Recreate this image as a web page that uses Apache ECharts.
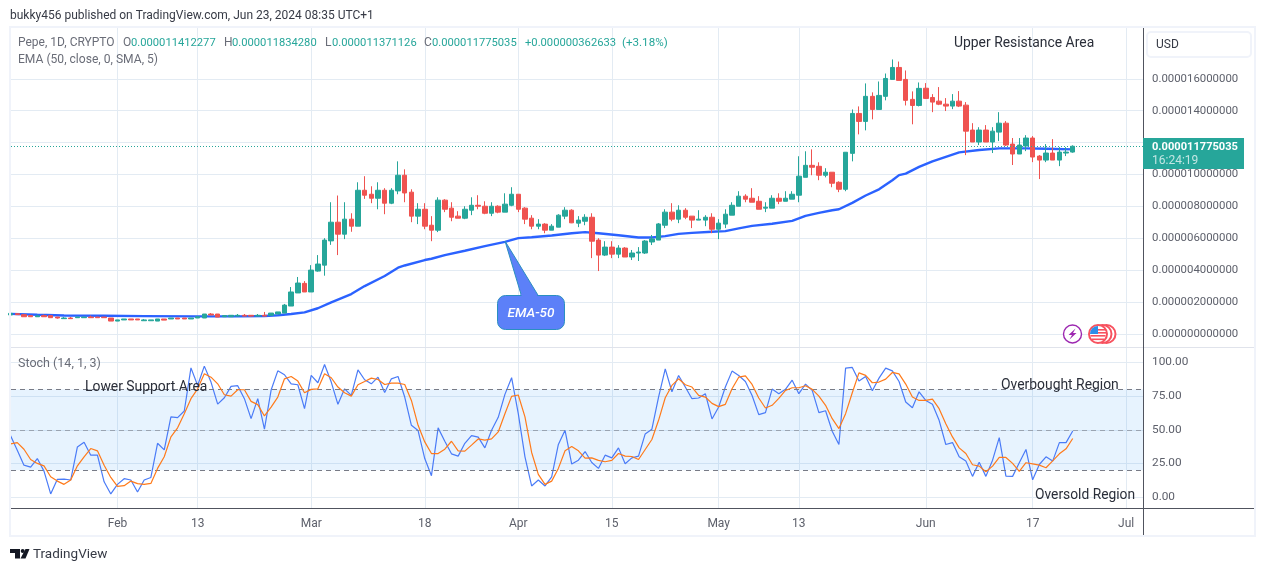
<!DOCTYPE html>
<html>
<head>
<meta charset="utf-8">
<title>Pepe 1D</title>
<style>
  html, body { margin: 0; padding: 0; background: #fff; }
  #chart { width: 1265px; height: 571px; }
</style>
<script src="https://cdn.jsdelivr.net/npm/echarts@6/dist/echarts.min.js"></script>
</head>
<body>
<div id="chart"></div>
<script>
// prices are in millionths of a dollar, one row per day from the start date
// open, close, low, high
const startDate = '2024-01-16';
const candles = [
  [1.21,1.31,1.21,1.31],[1.29,1.23,1.23,1.29],[1.23,1.10,1.10,1.23],[1.17,1.10,1.10,1.17],
  [1.10,1.15,1.10,1.23],[1.17,1.10,1.10,1.23],[1.17,1.04,1.04,1.17],[1.08,1.02,0.98,1.08],
  [0.98,1.02,0.98,1.08],[1.02,0.98,0.98,1.08],[1.04,1.08,1.04,1.08],[1.04,1.08,1.04,1.08],
  [1.08,1.04,1.04,1.17],[1.08,1.04,1.04,1.08],[1.08,1.04,1.04,1.08],[1.02,0.83,0.83,1.02],
  [0.83,0.90,0.83,0.90],[0.90,0.96,0.90,0.96],[0.96,0.90,0.90,0.96],[0.96,0.90,0.90,0.96],
  [0.85,0.90,0.85,0.96],[0.85,0.90,0.85,0.90],[0.83,0.96,0.83,0.96],[0.96,0.89,0.89,0.96],
  [0.96,1.02,0.96,1.02],[1.02,0.96,0.96,1.02],[1.02,0.96,0.96,1.02],[0.96,1.02,0.96,1.02],
  [1.02,1.10,1.02,1.10],[1.02,1.27,1.02,1.27],[1.27,1.21,1.21,1.33],[1.27,1.08,1.08,1.27],
  [1.10,1.17,1.10,1.17],[1.10,1.19,1.10,1.19],[1.14,1.19,1.14,1.27],[1.19,1.14,1.14,1.27],
  [1.19,1.14,1.10,1.19],[1.14,1.19,1.14,1.27],[1.19,1.14,1.14,1.40],[1.19,1.33,1.19,1.33],
  [1.27,1.40,1.27,1.40],[1.33,1.83,1.33,1.90],[1.77,2.65,1.77,2.96],[2.59,3.21,2.59,3.59],
  [3.19,2.65,2.65,3.33],[2.65,4.02,2.65,4.33],[3.96,4.40,3.92,4.96],[4.33,5.90,3.67,6.02],
  [5.85,7.02,5.60,8.27],[7.02,6.27,4.96,8.69],[6.27,7.21,5.96,8.27],[7.21,6.77,6.42,7.58],
  [6.77,9.02,6.77,9.52],[9.02,8.71,8.48,9.90],[8.77,8.52,8.21,9.27],[8.52,9.02,7.83,9.52],
  [9.02,8.21,7.52,9.15],[8.21,9.02,8.15,9.15],[8.98,9.96,8.77,10.83],[9.96,8.85,8.27,10.33],
  [8.90,7.40,7.02,9.08],[7.40,7.83,6.90,8.21],[7.83,6.77,6.58,8.21],[6.83,6.52,5.83,7.40],
  [6.52,8.40,6.40,8.58],[8.40,7.83,7.65,8.46],[7.90,7.33,7.08,8.27],[7.40,7.27,7.27,7.71],
  [7.27,7.83,7.21,8.02],[7.77,8.08,7.46,8.58],[8.08,8.02,7.83,8.71],[8.02,7.58,7.52,8.33],
  [7.58,8.02,7.40,8.27],[8.02,7.65,7.58,8.08],[7.65,8.15,7.65,8.83],[8.08,8.77,8.02,9.21],
  [8.77,7.83,7.65,8.77],[7.90,7.21,6.90,7.96],[7.27,6.77,6.58,7.46],[6.77,6.90,6.58,7.21],
  [6.90,6.52,6.33,6.96],[6.52,6.77,6.52,6.90],[6.71,7.46,6.71,7.52],[7.40,7.77,7.21,7.96],
  [7.77,6.98,6.96,7.83],[6.96,7.15,6.71,7.40],[7.08,7.33,6.83,7.52],[7.33,5.83,4.77,7.58],
  [5.90,4.96,3.96,6.02],[4.96,5.46,4.90,5.83],[5.46,5.02,4.77,5.83],[5.02,5.40,4.77,5.58],
  [5.40,4.84,4.84,5.46],[4.84,5.09,4.65,5.28],[5.09,5.15,4.59,5.46],[5.09,5.84,5.03,5.90],
  [5.78,5.97,5.59,6.22],[5.90,6.91,5.90,6.97],[6.83,7.65,6.65,7.83],[7.65,7.21,7.08,8.21],
  [7.21,7.77,6.96,8.08],[7.77,7.33,7.21,7.90],[7.40,7.15,6.65,7.40],[7.15,7.21,7.15,7.77],
  [7.15,7.33,6.77,7.46],[7.33,6.58,6.33,7.58],[6.58,6.96,5.96,7.21],[6.90,7.52,6.65,7.83],
  [7.46,8.08,7.46,8.27],[8.02,8.65,8.02,8.96],[8.65,8.46,8.27,8.77],[8.52,8.27,8.27,9.15],
  [8.33,7.83,7.83,8.65],[7.90,7.96,7.65,8.27],[7.90,8.52,7.90,8.71],[8.52,8.33,8.15,8.83],
  [8.33,8.52,8.33,8.96],[8.46,8.77,8.46,8.96],[8.71,9.90,8.27,11.15],[9.83,10.58,9.83,11.46],
  [10.58,10.46,9.96,11.58],[10.52,9.96,9.65,10.77],[9.96,10.15,9.83,10.40],[10.15,9.46,9.21,10.15],
  [9.52,9.08,8.90,9.58],[9.08,11.40,8.96,11.40],[11.33,13.83,10.83,14.08],[13.83,13.33,12.52,14.27],
  [13.33,14.90,12.77,15.71],[14.90,14.08,13.46,15.15],[14.08,14.96,14.08,15.83],[14.90,16.02,14.65,16.33],
  [15.96,16.71,15.96,17.21],[16.71,15.90,15.90,17.08],[15.96,14.65,14.33,16.52],[14.71,14.33,13.15,15.21],
  [14.33,15.40,14.27,15.77],[15.41,14.77,14.73,15.73],[14.83,14.54,13.91,15.04],[14.60,14.41,14.35,15.48],
  [14.41,14.29,13.98,14.79],[14.29,14.60,14.10,15.04],[14.60,14.29,14.23,15.23],[14.35,12.72,11.22,14.54],
  [12.79,12.04,12.04,13.22],[12.04,12.79,11.85,12.97],[12.79,12.04,12.04,13.10],[12.04,12.72,11.35,12.97],
  [12.66,13.22,12.10,13.91],[13.22,11.85,11.79,13.35],[11.91,11.29,10.60,12.29],[11.29,11.85,11.29,12.29],
  [11.79,12.29,11.47,12.47],[12.29,11.10,10.78,12.41],[11.16,10.91,9.72,11.22],[10.91,11.35,10.78,11.91],
  [11.35,10.91,10.91,12.22],[10.91,11.41,10.53,11.72],[11.35,11.41,11.16,11.72],[11.412,11.775,11.371,11.834]
];
const lastClose = 11.775;

const emaDays = [0,4,8,14,20,28,34,38,40,42,44,46,48,51,53,56,58,59,62,63,65,68,71,74,76,78,81,84,86,88,91,94,96,98,100,102,105,107,109,111,114,117,119,121,123,124,126,128,130,132,133,134,136,138,142,145,148,152,155,159];
const emaValues = [1.28,1.22,1.18,1.16,1.14,1.12,1.12,1.15,1.19,1.27,1.375,1.63,2.00,2.52,3.02,3.65,4.17,4.31,4.65,4.73,4.96,5.23,5.52,5.79,6.02,6.08,6.19,6.33,6.40,6.33,6.20,6.06,6.06,6.15,6.29,6.35,6.42,6.46,6.63,6.79,6.92,7.10,7.42,7.60,7.77,7.83,8.23,8.69,9.08,9.65,9.97,10.06,10.48,10.83,11.39,11.54,11.64,11.64,11.62,11.58];

const stochK = [
  45.5,34.9,23.8,22.4,28.7,19.4,2.5,13.3,13.5,12.8,37.3,40.8,31.2,31.2,11.5,2.5,
  9.6,13.8,12.8,3.9,12.8,14.7,40.0,35.1,59.5,59.0,63.9,95.8,82.8,97.1,85.3,69.0,
  73.7,82.1,82.6,73.0,58.2,73.0,50.4,79.4,93.6,90.7,84.0,83.3,65.6,90.2,84.8,98.3,
  85.3,68.8,80.3,75.4,94.3,87.0,84.0,88.9,77.6,87.7,89.4,74.2,53.3,49.4,28.7,16.0,
  51.4,41.5,32.2,30.5,40.0,45.7,44.5,36.6,49.6,59.2,76.2,88.5,61.9,30.0,8.4,12.8,
  8.4,15.2,39.1,49.6,24.6,27.5,33.9,25.8,21.4,31.2,29.2,36.6,24.8,29.2,30.5,46.9,
  50.4,74.2,95.1,78.1,90.2,81.6,73.0,73.5,76.7,58.0,66.8,81.6,93.4,90.2,85.7,75.4,
  61.2,62.7,80.1,76.7,79.9,86.7,76.7,83.8,79.1,62.7,64.1,48.9,39.1,95.6,96.1,86.0,
  89.4,78.9,88.2,95.6,93.6,85.7,70.5,66.3,78.1,71.7,68.8,57.0,39.1,40.5,30.0,26.8,
  15.5,26.0,15.5,27.5,44.2,15.7,15.5,25.6,35.4,13.0,24.3,30.0,26.8,40.5,40.5,49.1
];
const stochD = [
  39.6,40.5,35.6,28.0,25.1,23.3,15.2,12.0,9.6,12.8,23.3,30.0,36.1,34.4,23.8,14.7,
  8.1,8.6,12.0,10.1,9.6,10.3,21.4,30.0,44.7,51.4,61.9,73.0,80.3,91.4,88.9,84.0,
  75.9,74.9,79.6,79.6,71.0,68.6,60.2,66.8,74.2,87.7,89.4,86.0,77.4,79.9,80.3,91.4,
  88.5,81.6,77.4,74.9,83.3,85.7,88.2,87.2,83.5,84.5,84.5,83.5,71.7,53.3,41.0,32.4,
  32.4,35.6,41.5,34.4,34.2,38.6,43.2,42.3,43.2,48.4,61.9,74.7,75.7,59.5,33.2,17.0,
  9.6,12.0,21.4,34.4,37.6,34.4,29.0,29.2,27.3,26.3,27.3,32.4,30.5,30.2,28.0,35.4,
  42.8,57.0,73.7,82.8,87.7,83.3,81.6,75.4,74.2,69.5,67.1,68.8,80.3,88.9,89.9,83.5,
  73.5,66.1,68.1,73.2,79.1,81.1,81.1,82.6,79.9,74.9,68.1,58.2,50.9,61.9,77.4,92.1,
  90.2,84.8,85.3,87.5,92.4,91.4,83.8,74.2,71.7,71.7,72.7,65.6,54.5,44.7,36.6,32.4,
  24.1,23.1,18.9,23.1,29.5,29.5,25.1,19.2,25.6,24.8,23.8,21.9,27.0,32.2,35.9,43.5
];

const tickDates = ['2024-02-01','2024-02-13','2024-03-01','2024-03-18','2024-04-01','2024-04-15','2024-05-01','2024-05-13','2024-06-01','2024-06-17','2024-07-01'];
const tickLabels = ['Feb','13','Mar','18','Apr','15','May','13','Jun','17','Jul'];
const priceTicks = [0,2,4,6,8,10,12,14,16];
const stochTicks = [0,25,50,75,100];
const stochLevels = [20,50,80];

const FONT = 'Roboto';
const GRID = '#e3ebf3';
const UP = '#26a69a';
const DOWN = '#ef5350';
const LABEL = '#5d606b';

function dayIndex(d) {
  return (Date.parse(d) - Date.parse(startDate)) / 86400000;
}
const tickDays = tickDates.map(dayIndex);

function xAxisFor(gridIndex, showLabel) {
  return {
    type: 'value',
    gridIndex: gridIndex,
    min: 0.06,
    max: 169.52,
    axisLine: { show: false },
    axisTick: { show: false, customValues: tickDays },
    splitLine: { show: true, lineStyle: { color: GRID, width: 1 } },
    axisLabel: {
      show: showLabel,
      customValues: tickDays,
      margin: 10,
      color: LABEL,
      fontFamily: FONT,
      fontSize: 12,
      formatter: function (v) {
        return tickLabels[tickDays.indexOf(v)];
      }
    }
  };
}

function yAxisFor(gridIndex, min, max, ticks, fmt, size) {
  return {
    type: 'value',
    gridIndex: gridIndex,
    position: 'right',
    min: min,
    max: max,
    axisLine: { show: false },
    axisTick: { show: false, customValues: ticks },
    splitLine: { show: true, lineStyle: { color: GRID, width: 1 } },
    axisLabel: {
      customValues: ticks,
      margin: 9,
      color: LABEL,
      fontFamily: FONT,
      fontSize: size,
      padding: [3, 0, 0, 0],
      formatter: fmt
    }
  };
}

function txt(x, y, text, color, size, extra) {
  return {
    type: 'text',
    x: x,
    y: y + 1.2,
    z: 20,
    silent: true,
    style: Object.assign({
      text: text,
      fill: color,
      fontFamily: FONT,
      fontSize: size,
      verticalAlign: 'middle'
    }, extra || {})
  };
}

function box(x, y, w, h, fill, z) {
  return { type: 'rect', z: z || 10, silent: true, shape: { x: x, y: y, width: w, height: h }, style: { fill: fill } };
}

function usFlag(cx, cy, z) {
  // one coin of the US flag icon
  return [
    { type: 'circle', z: z, silent: true, shape: { cx: cx, cy: cy, r: 9 }, style: { fill: '#fff', stroke: '#f7525f', lineWidth: 2 } }
  ];
}

function getGraphics() {
  let g = [];
  // frame
  g.push(box(9, 26, 1247, 2, '#f0f3fa'));
  g.push(box(9, 535, 1247, 2, '#f0f3fa'));
  g.push(box(9, 26, 2, 511, '#f0f3fa'));
  g.push(box(1254, 26, 2, 511, '#f0f3fa'));
  // pane separators
  g.push(box(11, 347, 1243, 1, '#e0e3eb'));
  g.push(box(11, 508, 1243, 1, '#50535e'));
  g.push(box(1143, 28, 1, 507, '#50535e'));

  // header and legends
  g.push(txt(10, 15, 'bukky456 published on TradingView.com, Jun 23, 2024 08:35 UTC+1', '#363a45', 12));
  g.push(txt(18, 42, 'Pepe, 1D, CRYPTO', '#6a6d78', 12));
  g.push(txt(123, 42, 'O', '#6a6d78', 12));
  g.push(txt(131, 42, '0.000011412277', UP, 11.2));
  g.push(txt(224, 42, 'H', '#6a6d78', 12));
  g.push(txt(232, 42, '0.000011834280', UP, 11.2));
  g.push(txt(325, 42, 'L', '#6a6d78', 12));
  g.push(txt(332, 42, '0.000011371126', UP, 11.2));
  g.push(txt(424, 42, 'C', '#6a6d78', 12));
  g.push(txt(432, 42, '0.000011775035', UP, 11.2));
  g.push(txt(525, 42, '+0.000000362633', UP, 11.2));
  g.push(txt(622, 42, '(+3.18%)', UP, 11.6));
  g.push(txt(18, 59, 'EMA (50, close, 0, SMA, 5)', '#6a6d78', 12.1));
  g.push(txt(18, 363, 'Stoch (14, 1, 3)', '#6a6d78', 12.5));

  // drawn annotations
  g.push(txt(954, 42, 'Upper Resistance Area', '#2a2e39', 13.9));
  g.push(txt(85, 386, 'Lower Support Area', '#2a2e39', 13.9));
  g.push(txt(1001, 384, 'Overbought Region', '#2a2e39', 13.9));
  g.push(txt(1035, 494, 'Oversold Region', '#2a2e39', 13.8));

  // EMA-50 callout
  g.push({
    type: 'polygon', z: 11, silent: true,
    shape: { points: [[505, 241], [521.5, 296], [538.5, 296]] },
    style: { fill: '#5c80f8', stroke: '#2a8fc0', lineWidth: 1 }
  });
  g.push({
    type: 'rect', z: 12, silent: true,
    shape: { x: 497.5, y: 295.5, width: 67, height: 34, r: 8 },
    style: { fill: '#5c80f8', stroke: '#2a8fc0', lineWidth: 1 }
  });
  g.push({
    type: 'polygon', z: 13, silent: true,
    shape: { points: [[520, 294], [523, 297], [537, 297], [537.5, 294]] },
    style: { fill: '#5c80f8' }
  });
  g.push(txt(531, 312, 'EMA-50', '#fff', 13.5, { align: 'center', fontStyle: 'italic', fontWeight: 500 }));

  // price scale extras
  g.push({
    type: 'rect', z: 10, silent: true,
    shape: { x: 1147, y: 32, width: 104, height: 25, r: 4 },
    style: { fill: '#fff', stroke: '#f0f3fa', lineWidth: 2 }
  });
  g.push(txt(1156, 44, 'USD', '#363a45', 12));
  g.push(box(1143, 138, 101, 31, UP, 15));
  g.push(txt(1152, 146, '0.000011775035', '#fff', 11.1, { fontWeight: 'bold' }));
  g.push(txt(1152, 160, '16:24:19', '#c3e6e3', 12));

  // stats and news icons
  g.push({
    type: 'circle', z: 10, silent: true,
    shape: { cx: 1072.5, cy: 334, r: 9 },
    style: { fill: '#fff', stroke: '#9c27b0', lineWidth: 1.4 }
  });
  g.push({
    type: 'polygon', z: 11, silent: true,
    shape: { points: [[1075.5, 328.5], [1068.5, 335], [1072, 335], [1069.5, 339.5], [1076.5, 333], [1073, 333]] },
    style: { fill: '#9c27b0' }
  });
  g = g.concat(usFlag(1106.5, 334, 10), usFlag(1102.5, 334, 11), usFlag(1098, 334, 12));
  g.push(box(1090.5, 335, 15, 1.6, '#f7525f', 13));
  g.push(box(1092, 338.5, 12, 1.6, '#f7525f', 13));
  g.push(box(1098, 329, 8, 1.6, '#f7525f', 13));
  g.push(box(1098, 332, 9, 1.6, '#f7525f', 13));
  g.push({
    type: 'sector', z: 13, silent: true,
    shape: { cx: 1098, cy: 334, r: 8, r0: 0, startAngle: Math.PI, endAngle: Math.PI * 1.5 },
    style: { fill: '#2d8ee8' }
  });

  // TradingView logo
  g.push({
    type: 'polygon', z: 10, silent: true,
    shape: { points: [[10, 549], [20, 549], [20, 558.5], [15, 558.5], [15, 553], [10, 553]] },
    style: { fill: '#131722' }
  });
  g.push({ type: 'circle', z: 10, silent: true, shape: { cx: 22.7, cy: 551, r: 2 }, style: { fill: '#131722' } });
  g.push({
    type: 'polygon', z: 10, silent: true,
    shape: { points: [[25.5, 549], [29.5, 549], [25.5, 558.5], [20.5, 558.5]] },
    style: { fill: '#131722' }
  });
  g.push(txt(33, 553, 'TradingView', '#363a45', 13.5));
  return g;
}

function getOption() {
  return {
    backgroundColor: '#fff',
    animation: false,
    grid: [
      { left: 11, top: 28, width: 1132, height: 319 },
      { left: 11, top: 348, width: 1132, height: 160 }
    ],
    xAxis: [xAxisFor(0, false), xAxisFor(1, true)],
    yAxis: [
      yAxisFor(0, -0.795, 19.18, priceTicks, function (v) { return (v / 1e6).toFixed(12); }, 11.4),
      yAxisFor(1, -7.9, 110.5, stochTicks, function (v) { return v.toFixed(2); }, 11.8)
    ],
    graphic: getGraphics(),
    series: [
      {
        name: 'EMA',
        type: 'line',
        xAxisIndex: 0,
        yAxisIndex: 0,
        z: 2,
        showSymbol: false,
        lineStyle: { color: '#2b62ff', width: 2.4 },
        data: emaDays.map(function (d, i) { return [d, emaValues[i]]; })
      },
      {
        name: 'Pepe',
        type: 'candlestick',
        xAxisIndex: 0,
        yAxisIndex: 0,
        z: 3,
        barWidth: 5,
        itemStyle: { color: UP, color0: DOWN, borderColor: UP, borderColor0: DOWN, borderWidth: 1 },
        data: candles.map(function (c, i) { return [i, c[0], c[1], c[2], c[3]]; }),
        markLine: {
          silent: true,
          symbol: 'none',
          label: { show: false },
          lineStyle: { color: UP, type: [1, 2], width: 1 },
          data: [{ yAxis: lastClose }]
        }
      },
      {
        name: '%K',
        type: 'line',
        xAxisIndex: 1,
        yAxisIndex: 1,
        z: 4,
        showSymbol: false,
        lineStyle: { color: '#4a7bf7', width: 1.2 },
        data: stochK.map(function (v, i) { return [i, v]; }),
        markArea: {
          silent: true,
          itemStyle: { color: 'rgba(33,150,243,0.11)' },
          data: [[{ yAxis: stochLevels[0] }, { yAxis: stochLevels[2] }]]
        },
        markLine: {
          silent: true,
          symbol: 'none',
          label: { show: false },
          lineStyle: { color: '#787b86', type: [5, 4], width: 1 },
          data: stochLevels.map(function (v) {
            return { yAxis: v, lineStyle: { opacity: v === 50 ? 0.6 : 1 } };
          })
        }
      },
      {
        name: '%D',
        type: 'line',
        xAxisIndex: 1,
        yAxisIndex: 1,
        z: 5,
        showSymbol: false,
        lineStyle: { color: '#ff7a1a', width: 1.2 },
        data: stochD.map(function (v, i) { return [i, v]; })
      }
    ]
  };
}

const chart = echarts.init(document.getElementById('chart'), null, { renderer: 'canvas' });
chart.setOption(getOption());
</script>
</body>
</html>
